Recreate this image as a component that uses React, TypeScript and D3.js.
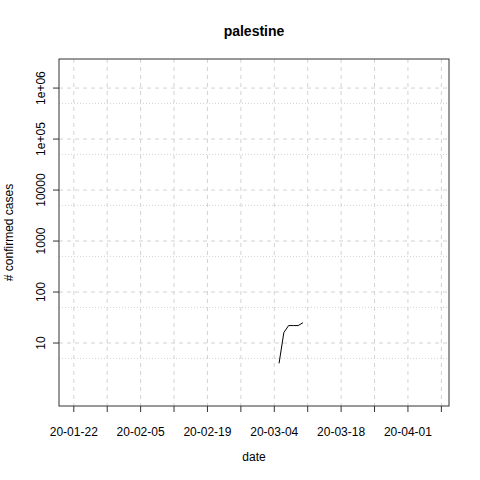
import * as d3 from "d3";
import React from "react";

const dates = ["2020-03-05", "2020-03-06", "2020-03-07", "2020-03-08", "2020-03-09", "2020-03-10"];
const cases = [4, 16, 22, 22, 22, 25];
const yTicks = [10, 100, 1000, 10000, 1e5, 1e6];
const yTickLabels = ["10", "100", "1000", "10000", "1e+05", "1e+06"];
const yMinor = [5, 50, 500, 5000, 5e4, 5e5];
const xStart = "2020-01-22";

const parse = d3.utcParse("%Y-%m-%d");
const fmt = d3.utcFormat("%y-%m-%d");

export default function App() {
  const left = 59, right = 449, top = 59, bottom = 406;
  const t0 = parse(xStart)!;
  const day = 86400000;
  const x = d3
    .scaleUtc()
    .domain([new Date(+t0 - 3.1 * day), new Date(+t0 + 78.6 * day)])
    .range([left, right]);
  const y = d3.scaleLog().domain([10 ** -0.235, 10 ** 6.57]).range([bottom, top]);
  const xTicks = d3.range(0, 12).map((i) => new Date(+t0 + i * 7 * day));
  const line = d3
    .line<number>()
    .x((_, i) => x(parse(dates[i])!))
    .y((d) => y(d));
  const font = "Liberation Sans, Arial, sans-serif";

  return (
    <svg width={480} height={480} style={{ position: "absolute", left: 0, top: 0, background: "#fff" }} fontFamily={font}>
      {xTicks.map((d, i) => (
        <line key={"gx" + i} x1={x(d)} x2={x(d)} y1={top} y2={bottom} stroke="#d3d3d3" strokeDasharray="4,4" />
      ))}
      {yTicks.map((v, i) => (
        <line key={"gy" + i} x1={left} x2={right} y1={y(v)} y2={y(v)} stroke="#d3d3d3" strokeDasharray="4,4" />
      ))}
      {yMinor.map((v, i) => (
        <line key={"gm" + i} x1={left} x2={right} y1={y(v)} y2={y(v)} stroke="#d3d3d3" strokeDasharray="1,2" />
      ))}
      <path d={line(cases) ?? ""} fill="none" stroke="#000" strokeWidth={1} />
      <rect x={left} y={top} width={right - left} height={bottom - top} fill="none" stroke="#333" />
      {yTicks.map((v, i) => (
        <g key={"ty" + i}>
          <line x1={left - 6} x2={left} y1={y(v)} y2={y(v)} stroke="#333" />
          <text transform={`translate(${left - 14},${y(v)}) rotate(-90)`} textAnchor="middle" fontSize={12}>
            {yTickLabels[i]}
          </text>
        </g>
      ))}
      {xTicks.map((d, i) => (
        <g key={"tx" + i}>
          <line x1={x(d)} x2={x(d)} y1={bottom} y2={bottom + 6} stroke="#333" />
          {i % 2 === 0 && (
            <text x={x(d)} y={bottom + 30} textAnchor="middle" fontSize={12}>
              {fmt(d)}
            </text>
          )}
        </g>
      ))}
      <text x={254} y={36} textAnchor="middle" fontSize={14} fontWeight="bold">palestine</text>
      <text x={254} y={461} textAnchor="middle" fontSize={12}>date</text>
      <text transform={`translate(13,${(top + bottom) / 2}) rotate(-90)`} textAnchor="middle" fontSize={12}>
        # confirmed cases
      </text>
    </svg>
  );
}
